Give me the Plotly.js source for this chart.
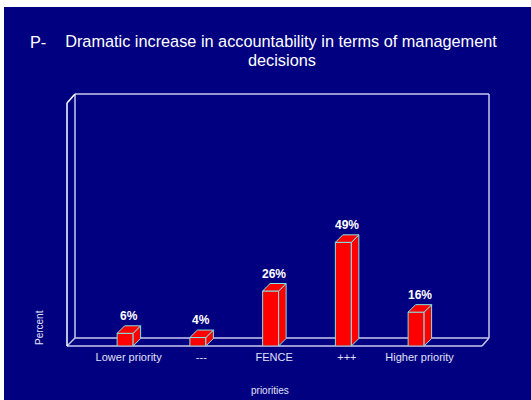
<!DOCTYPE html>
<html>
<head>
<meta charset="utf-8">
<script src="https://cdn.plot.ly/plotly-3.0.1.min.js"></script>
<style>
  html, body { margin: 0; padding: 0; background: #ffffff; width: 531px; height: 400px; overflow: hidden; }
  #chart { position: absolute; left: 4px; top: 7px; width: 527px; height: 393px; }
</style>
</head>
<body>
<div id="chart"></div>
<script>
// ---- data ----
const categories = ["Lower priority", "---", "FENCE", "+++", "Higher priority"];
const percents = [6, 4, 26, 49, 16];
const valueLabels = ["6%", "4%", "26%", "49%", "16%"];
const titleLine1 = "Dramatic increase in accountability in terms of management";
const titleLine2 = "decisions";
const titlePrefix = "P-";
const xTitle = "priorities";
const yTitle = "Percent";

// ---- styling / geometry ----
const NAVY = "#000080";
const RED = "#ff0000";
const EDGE = "#80e6e6";
const FRAME = "#c8c8ee";
const XR = [-0.847, 4.954];   // x axis range (category units)
const YR = [0, 119.1];        // y axis range (percent)
const BAR_OFFSET = -0.158, BAR_WIDTH = 0.22;
const DX = 0.103, DY = 3.54;   // 3D depth in axis units
const FONT = "Liberation Sans, Arial, sans-serif";

const idx = categories.map((c, i) => i);

// front faces
const front = {
  type: "bar", x: idx, y: percents,
  offset: BAR_OFFSET, width: BAR_WIDTH,
  marker: { color: RED, line: { color: EDGE, width: 1 } },
  hoverinfo: "skip", showlegend: false
};

// top and side faces computed from data
const topX = [], topY = [], sideX = [], sideY = [];
idx.forEach((i) => {
  const v = percents[i];
  const x0 = i + BAR_OFFSET, x1 = x0 + BAR_WIDTH;
  topX.push(x0, x1, x1 + DX, x0 + DX, x0, null);
  topY.push(v, v, v + DY, v + DY, v, null);
  sideX.push(x1, x1, x1 + DX, x1 + DX, x1, null);
  sideY.push(0, v, v + DY, DY, 0, null);
});
const faceStyle = {
  type: "scatter", mode: "lines", fill: "toself", fillcolor: RED,
  line: { color: EDGE, width: 1 }, hoverinfo: "skip", showlegend: false
};
const tops = Object.assign({}, faceStyle, { x: topX, y: topY });
const sides = Object.assign({}, faceStyle, { x: sideX, y: sideY });

// frame (page pixel → paper)
const PL = 67, PR = 489, PT = 94, PB = 346;
const px = (x) => (x - PL) / (PR - PL);
const py = (y) => (PB - y) / (PB - PT);
function seg(x0, y0, x1, y1, color, w) {
  return { type: "line", xref: "paper", yref: "paper", layer: "below",
    x0: px(x0), y0: py(y0), x1: px(x1), y1: py(y1),
    line: { color: color, width: w } };
}
const shapes = [
  seg(75, 94, 75, 338, FRAME, 1.5),
  seg(75, 94, 489, 94, FRAME, 1.5),
  seg(489, 94, 489, 338, FRAME, 1.5),
  seg(75, 338, 489, 338, FRAME, 1.5),
  seg(67, 346, 482, 346, FRAME, 1.5),
  seg(67, 346, 75, 338, FRAME, 1.5),
  seg(482, 346, 489, 338, FRAME, 1.5),
  seg(67, 103, 75, 94, "#ffffff", 1.5),
  seg(67, 103, 67, 346, "#ffffff", 1.5)
];

const annotations = idx.map((i) => ({
  x: i, y: percents[i] + DY, xref: "x", yref: "y",
  text: "<b>" + valueLabels[i] + "</b>", showarrow: false,
  yanchor: "bottom", yshift: 1,
  font: { family: FONT, size: 12, color: "#ffffff" }
}));
annotations.push({
  xref: "paper", yref: "paper", x: px(28), y: py(42), xanchor: "left", yanchor: "middle",
  text: titlePrefix, showarrow: false,
  font: { family: FONT, size: 16.3, color: "#ffffff" }
});
annotations.push({
  xref: "paper", yref: "paper", x: px(282), y: py(60), xanchor: "center", yanchor: "middle",
  text: titleLine2, showarrow: false,
  font: { family: FONT, size: 16.3, color: "#ffffff" }
});
annotations.push({
  xref: "paper", yref: "paper", x: px(270), y: py(390), xanchor: "center", yanchor: "middle",
  text: xTitle, showarrow: false,
  font: { family: FONT, size: 10, color: "#e0e0f8" }
});
annotations.push({
  xref: "paper", yref: "paper", x: px(39), y: py(328), xanchor: "center", yanchor: "middle",
  text: yTitle, showarrow: false, textangle: -90,
  font: { family: FONT, size: 10, color: "#e0e0f8" }
});

const layout = {
  width: 527, height: 393,
  paper_bgcolor: NAVY, plot_bgcolor: "rgba(0,0,0,0)",
  margin: { l: 63, r: 42, t: 87, b: 54, pad: 0 },
  title: {
    text: titleLine1, xref: "container", yref: "container",
    x: 277 / 527, xanchor: "center", y: 1 - 29 / 393, yanchor: "top",
    font: { family: FONT, size: 16.3, color: "#ffffff" }
  },
  xaxis: {
    range: XR, tickmode: "array", tickvals: idx, ticktext: categories,
    showgrid: false, zeroline: false, showline: false, ticks: "",
    ticklabelstandoff: 3,
    tickfont: { family: FONT, size: 11, color: "#e0e0f8" },
    fixedrange: true
  },
  yaxis: { range: YR, visible: false, showgrid: false, zeroline: false, fixedrange: true },
  shapes: shapes,
  annotations: annotations,
  showlegend: false,
  bargap: 0
};

Plotly.newPlot("chart", [front, sides, tops], layout, { displayModeBar: false, staticPlot: true });
</script>
</body>
</html>
